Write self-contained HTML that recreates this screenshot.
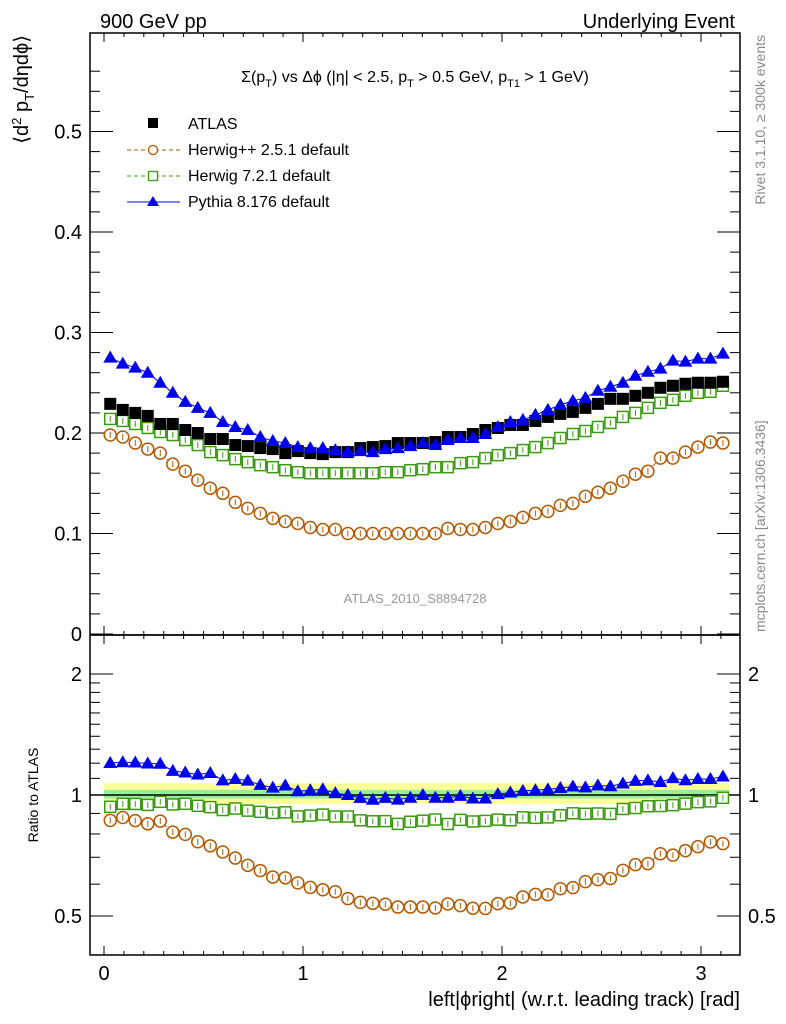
<!DOCTYPE html>
<html><head><meta charset="utf-8"><style>
html,body{margin:0;padding:0;background:#fff;}
svg{display:block;font-family:"Liberation Sans",sans-serif;}
</style></head><body>
<svg id="c" width="786" height="1024" viewBox="0 0 786 1024" xmlns="http://www.w3.org/2000/svg">
<text x="100" y="28" font-size="20">900 GeV pp</text>
<text x="735" y="28" font-size="20" text-anchor="end">Underlying Event</text>
<g id="bands"></g>
<g id="ticks"></g>
<g id="marks"></g>
<rect x="90" y="33" width="650" height="602" fill="none" stroke="#000" stroke-width="1.5"/>
<rect x="90" y="635" width="650" height="320" fill="none" stroke="#000" stroke-width="1.5"/>
<text x="415" y="82" font-size="16" text-anchor="middle">Σ(p<tspan font-size="11" dy="5">T</tspan><tspan dy="-5">) vs Δϕ (|η| &lt; 2.5, p</tspan><tspan font-size="11" dy="5">T</tspan><tspan dy="-5"> &gt; 0.5 GeV, p</tspan><tspan font-size="11" dy="5">T1</tspan><tspan dy="-5"> &gt; 1 GeV)</tspan></text>
<g>
<rect x="148" y="118" width="10" height="10" fill="#000"/>
<text x="188" y="129" font-size="16">ATLAS</text>
<line x1="127" y1="150" x2="180" y2="150" stroke="#b35900" stroke-dasharray="4,3"/>
<circle cx="153" cy="150" r="4.5" fill="#fff" stroke="#b35900" stroke-width="1.3"/>
<text x="188" y="155" font-size="16">Herwig++ 2.5.1 default</text>
<line x1="127" y1="176" x2="180" y2="176" stroke="#3a9a10" stroke-dasharray="4,3"/>
<rect x="148.5" y="171.5" width="9" height="9" fill="#fff" stroke="#3a9a10" stroke-width="1.3"/>
<text x="188" y="181" font-size="16">Herwig 7.2.1 default</text>
<line x1="127" y1="202" x2="180" y2="202" stroke="#0000ee"/>
<polygon points="153,196 159,206 147,206" fill="#0000ee"/>
<text x="188" y="207" font-size="16">Pythia 8.176 default</text>
</g>
<text x="415" y="603" font-size="13" fill="#999" text-anchor="middle">ATLAS_2010_S8894728</text>
<text transform="translate(28,35) rotate(-90)" font-size="20" text-anchor="end">⟨d<tspan font-size="13" dy="-7">2</tspan><tspan dy="7"> p</tspan><tspan font-size="13" dy="6">T</tspan><tspan dy="-6">/dηdϕ⟩</tspan></text>
<text transform="translate(38,795) rotate(-90)" font-size="14" text-anchor="middle">Ratio to ATLAS</text>
<text transform="translate(765,35) rotate(-90)" font-size="14" fill="#888" text-anchor="end">Rivet 3.1.10, ≥ 300k events</text>
<text transform="translate(765,632) rotate(-90)" font-size="14" fill="#888">mcplots.cern.ch [arXiv:1306.3436]</text>
<text x="740" y="1006" font-size="20" text-anchor="end">left|ϕright| (w.r.t. leading track) [rad]</text>
</svg>
<script>
const atlas=[.229,.223,.220,.217,.209,.209,.203,.200,.194,.194,.188,.187,.185,.184,.180,.182,.180,.179,.181,.181,.185,.186,.187,.190,.190,.190,.191,.196,.196,.199,.203,.205,.208,.208,.212,.216,.219,.221,.225,.229,.234,.234,.237,.240,.245,.247,.249,.250,.250,.251];
const herwigpp=[.198,.196,.190,.184,.180,.169,.162,.153,.145,.140,.131,.125,.120,.115,.112,.110,.106,.104,.104,.100,.100,.100,.100,.100,.100,.100,.100,.105,.104,.104,.106,.110,.112,.116,.120,.122,.128,.130,.137,.141,.145,.152,.159,.162,.175,.175,.181,.186,.191,.190];
const herwig7=[.214,.212,.209,.205,.201,.198,.193,.188,.181,.178,.174,.171,.168,.166,.163,.161,.160,.160,.160,.160,.160,.160,.161,.161,.163,.164,.166,.166,.170,.171,.175,.178,.180,.183,.186,.190,.195,.199,.202,.206,.210,.216,.220,.225,.230,.233,.237,.240,.241,.247];
const pythia=[.275,.269,.265,.260,.250,.240,.231,.225,.220,.211,.206,.203,.196,.192,.190,.186,.185,.185,.183,.181,.182,.181,.184,.185,.187,.190,.188,.193,.195,.195,.199,.206,.211,.213,.218,.223,.228,.232,.235,.242,.246,.250,.257,.261,.264,.272,.271,.274,.274,.279];
const mainTicks=[0,0.1,0.2,0.3,0.4,0.5];
const mainTickLabels=["0","0.1","0.2","0.3","0.4","0.5"];
const ratioTicks=[0.5,1,2];
const ratioTickLabels=["0.5","1","2"];
const xTicks=[0,1,2,3];
const xTickLabels=["0","1","2","3"];
const NS="http://www.w3.org/2000/svg";
const xs=v=>104+v*199;
const ys=v=>634-v*1005;
const yr=r=>795-121*Math.log2(r);
function mk(tag,attrs,parent){const e=document.createElementNS(NS,tag);for(const k in attrs)e.setAttribute(k,attrs[k]);parent.appendChild(e);return e;}
const T=document.getElementById('ticks'),M=document.getElementById('marks'),B=document.getElementById('bands');
let b1=mk('rect',{x:xs(0),y:yr(1.07),width:xs(Math.PI)-xs(0),height:yr(0.95)-yr(1.07),fill:'#ffff99'},B);


let b2=mk('rect',{x:xs(0),y:yr(1.03),width:xs(Math.PI)-xs(0),height:yr(0.98)-yr(1.03),fill:'#99ee99'},B);


let l1=mk('line',{x1:90,x2:740,y1:yr(1),y2:yr(1),stroke:'#000','stroke-width':1.5},B);


for(let v=0;v<=0.58;v+=0.02){const maj=Math.abs(v*10-Math.round(v*10))<1e-6;const L=maj?23:10;const y=ys(v);
 mk('line',{x1:90,x2:90+L,y1:y,y2:y,stroke:'#000'},T);mk('line',{x1:740,x2:740-L,y1:y,y2:y,stroke:'#000'},T);}
mainTicks.forEach((v,i)=>{const t=mk('text',{x:82,y:ys(v)+7,'font-size':20,'text-anchor':'end'},T);t.textContent=mainTickLabels[i];
 
 });
[0.5,0.6,0.7,0.8,0.9,1,1.1,1.2,1.3,1.4,1.5,1.6,1.7,1.8,1.9,2].forEach(v=>{const maj=ratioTicks.includes(v);const L=maj?23:10;const y=yr(v);
 mk('line',{x1:90,x2:90+L,y1:y,y2:y,stroke:'#000'},T);mk('line',{x1:740,x2:740-L,y1:y,y2:y,stroke:'#000'},T);});
ratioTicks.forEach((v,i)=>{let t=mk('text',{x:82,y:yr(v)+7,'font-size':20,'text-anchor':'end'},T);t.textContent=ratioTickLabels[i];
 
 
 let t2=mk('text',{x:748,y:yr(v)+7,'font-size':20},T);t2.textContent=ratioTickLabels[i];
 
 });
for(let v=0;v<=3.15;v+=0.1){const maj=Math.abs(v-Math.round(v))<1e-6;const L=maj?9:4;const x=xs(v);
 [33,635].forEach(y0=>{mk('line',{x1:x,x2:x,y1:y0,y2:y0+L,stroke:'#000'},T);});
 [635,955].forEach(y0=>{mk('line',{x1:x,x2:x,y1:y0,y2:y0-L,stroke:'#000'},T);});}
xTicks.forEach((v,i)=>{const t=mk('text',{x:xs(v),y:980,'font-size':20,'text-anchor':'middle'},T);t.textContent=xTickLabels[i];
 
 });
const N=atlas.length,w=Math.PI/N,cx=i=>xs((i+0.5)*w);
function series(arr,kind,col,name,ratio){
 const g=mk('g',{},M);
 
 
 const Y=i=>ratio?yr(arr[i]/atlas[i]):ys(arr[i]);
 if(kind!=='sq'){let d='';arr.forEach((v,i)=>{d+=(i?'L':'M')+cx(i)+','+Y(i);});
  mk('path',{d:d,fill:'none',stroke:col,'stroke-width':1,'stroke-dasharray':kind==='tri'?'':'4,3'},g);}
 arr.forEach((v,i)=>{const x=cx(i),y=Y(i);let e;
  if(kind==='sq')e=mk('rect',{x:x-6,y:y-6,width:12,height:12,fill:col},g);
  else if(kind==='osq'){e=mk('rect',{x:x-5.5,y:y-5.5,width:11,height:11,fill:'#fff',stroke:col,'stroke-width':1.5},g);mk('line',{x1:x,x2:x,y1:y-3,y2:y+3,stroke:col},g);}
  else if(kind==='circ'){e=mk('circle',{cx:x,cy:y,r:6,fill:'#fff',stroke:col,'stroke-width':1.5},g);mk('line',{x1:x,x2:x,y1:y-3,y2:y+3,stroke:col},g);}
  else e=mk('polygon',{points:`${x},${y-7} ${x+7},${y+5} ${x-7},${y+5}`,fill:col},g);
  
  });
}
series(herwigpp,'circ','#b35900','herwigpp',false);
series(herwig7,'osq','#3a9a10','herwig7',false);
series(atlas,'sq','#000','atlas',false);
series(pythia,'tri','#0000ee','pythia',false);
series(herwigpp,'circ','#b35900','herwigpp',true);
series(herwig7,'osq','#3a9a10','herwig7',true);
series(pythia,'tri','#0000ee','pythia',true);
</script>
</body></html>
